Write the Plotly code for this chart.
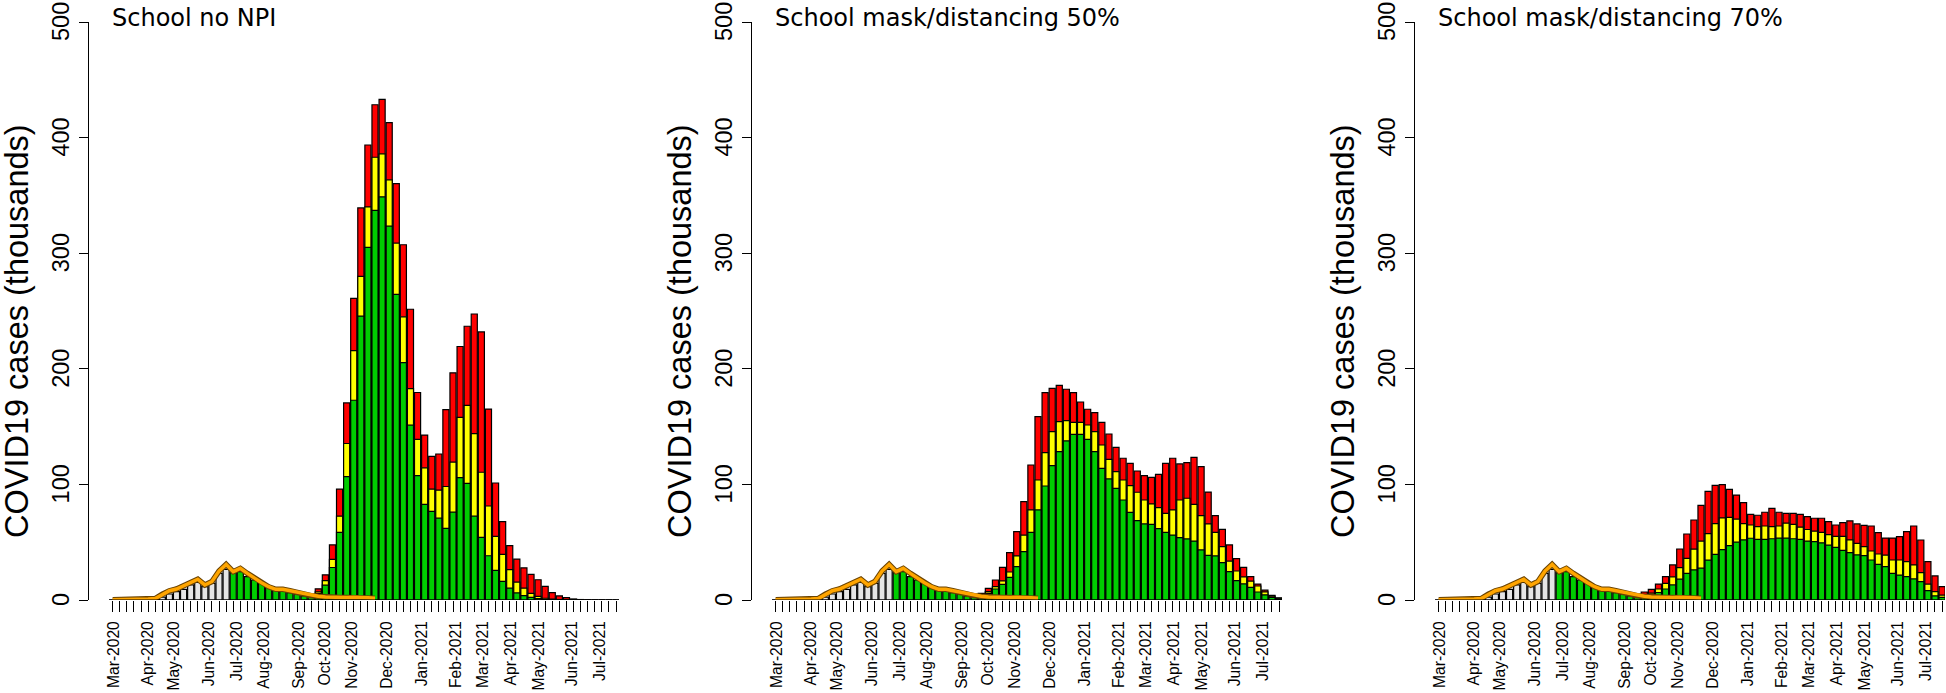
import plotly.graph_objects as go

# weekly bars, first week of March 2020 onwards
weeks = list(range(72))
n_observed_grey = 17   # weeks drawn in grey before the model period
n_shared = 29          # weeks identical in all three scenarios

# weekly cases (thousands) shared by every scenario
shared_cases = [0.2, 0.3, 0.3, 0.4, 0.5, 0.7, 1.2, 2.5, 5.2, 7.2, 9.2, 13.0, 15.3, 11.5,
                14.4, 23.1, 26.5, 23.6, 24.5, 20.2, 17.3, 14.4, 11.5, 8.7, 7.5, 6.3, 4.9,
                3.5, 2.6]

# reported cases (orange line)
reported = [0.3, 0.3, 0.4, 0.5, 0.7, 0.9, 1.2, 5.0, 8.0, 9.5, 12.4, 15.8, 18.0, 13.0,
            16.0, 25.0, 30.8, 24.5, 27.4, 23.0, 18.7, 15.0, 11.5, 9.2, 9.2, 8.0, 6.3,
            4.9, 3.7, 3.2, 2.6, 2.3, 2.2, 2.2, 2.3, 2.3, 2.0, 1.5]

# scenario weeks 29..71: total (top of red), green+yellow (top of yellow), green
no_npi_total = [9.7, 21.8, 47.7, 95.9, 170.5, 261.0, 339.2, 393.6, 428.4, 433.0, 413.0,
                360.2, 307.3, 251.5, 179.5, 142.7, 124.3, 126.3, 164.6, 196.5, 219.3,
                236.8, 247.4, 231.9, 165.2, 101.2, 67.8, 47.1, 35.4, 27.8, 22.2, 17.5,
                11.7, 6.4, 3.5, 2.0, 0.9, 0.4, 0.2, 0.1, 0.1, 0.05, 0.03]
no_npi_gy = [7.0, 16.8, 35.1, 72.5, 135.4, 215.8, 280.0, 340.0, 383.0, 386.0, 363.5,
             308.8, 245.0, 182.8, 138.9, 114.3, 95.9, 95.0, 98.2, 119.3, 157.9, 168.4,
             143.9, 110.5, 81.3, 55.0, 39.5, 26.3, 15.5, 10.2, 5.8, 3.2, 1.5, 0.8, 0.4,
             0.2, 0.1, 0.05, 0, 0, 0, 0, 0]
no_npi_green = [5.5, 12.8, 28.1, 58.5, 106.7, 172.8, 245.6, 305.0, 337.0, 348.8, 323.4,
                264.3, 205.3, 151.2, 107.6, 82.8, 76.6, 70.8, 62.0, 76.0, 105.9, 100.9,
                72.5, 54.1, 38.3, 25.7, 16.1, 10.2, 6.1, 3.8, 2.3, 1.2, 0.5, 0.3, 0.1,
                0.1, 0, 0, 0, 0, 0, 0, 0]

mask50_total = [5.8, 10.1, 17.3, 28.3, 41.0, 59.1, 85.1, 116.8, 158.6, 179.4, 183.1,
                185.7, 182.3, 179.4, 171.3, 165.0, 162.1, 153.7, 143.6, 132.1, 122.6,
                118.2, 111.6, 107.6, 106.1, 108.7, 118.2, 122.6, 117.7, 118.8, 123.4,
                115.4, 93.4, 73.0, 61.1, 47.6, 35.8, 28.3, 20.2, 13.8, 8.5, 4.0, 1.8]
mask50_gy = [4.3, 7.2, 11.5, 16.5, 24.2, 38.1, 56.2, 77.9, 103.8, 127.5, 145.6, 154.3,
             155.2, 153.7, 153.7, 151.4, 145.6, 134.1, 121.7, 111.0, 103.8, 98.9, 93.2,
             86.5, 83.1, 79.9, 75.0, 77.9, 86.5, 88.0, 82.8, 73.0, 65.8, 58.5, 46.1,
             33.7, 25.1, 20.0, 16.4, 12.1, 7.0, 3.3, 1.5]
mask50_green = [3.5, 5.8, 9.5, 13.5, 19.6, 28.8, 41.8, 58.5, 77.9, 98.6, 116.2, 128.3,
                137.6, 143.3, 143.3, 139.0, 128.3, 113.9, 104.7, 96.6, 86.5, 75.8, 68.6,
                65.8, 65.5, 61.7, 58.5, 56.2, 53.9, 52.8, 51.0, 43.3, 38.6, 38.1, 32.3,
                24.5, 16.7, 14.0, 11.0, 6.9, 4.5, 2.2, 1.0]

mask70_total = [6.9, 9.2, 13.8, 20.2, 30.3, 44.1, 57.1, 69.2, 81.9, 94.0, 99.2, 99.8,
                95.7, 90.8, 84.2, 74.1, 73.3, 75.9, 79.3, 75.9, 75.0, 75.0, 74.1, 72.1,
                70.7, 70.7, 67.8, 64.9, 66.9, 68.4, 65.8, 64.6, 64.0, 58.3, 53.6, 53.6,
                54.8, 59.1, 64.0, 51.9, 33.2, 20.8, 11.5]
mask70_gy = [4.3, 6.0, 9.5, 14.4, 20.0, 28.0, 36.0, 44.0, 51.0, 57.5, 66.0, 71.0, 71.5,
             70.0, 66.0, 64.9, 63.4, 64.0, 63.5, 64.0, 66.5, 65.5, 63.0, 61.0, 59.5,
             58.5, 56.5, 55.0, 55.0, 52.0, 49.0, 46.1, 42.4, 39.8, 38.9, 34.6, 34.6,
             33.2, 30.3, 23.7, 13.8, 7.2, 4.3]
mask70_green = [2.9, 3.8, 6.5, 9.5, 13.0, 18.0, 23.0, 26.0, 27.5, 34.5, 39.5, 43.5, 47.0,
                50.0, 52.0, 53.4, 52.5, 52.5, 53.0, 53.5, 53.5, 53.0, 52.5, 51.0, 50.5,
                49.5, 47.5, 45.5, 43.0, 41.0, 39.0, 38.4, 34.6, 30.9, 28.8, 23.1, 21.6,
                20.2, 18.2, 15.9, 8.1, 3.5, 2.3]

titles = ['School no NPI', 'School mask/distancing 50%', 'School mask/distancing 70%']
scenarios = [(no_npi_total, no_npi_gy, no_npi_green),
             (mask50_total, mask50_gy, mask50_green),
             (mask70_total, mask70_gy, mask70_green)]

month_labels = ['Mar-2020', 'Apr-2020', 'May-2020', 'Jun-2020', 'Jul-2020', 'Aug-2020',
                'Sep-2020', 'Oct-2020', 'Nov-2020', 'Dec-2020', 'Jan-2021', 'Feb-2021',
                'Mar-2021', 'Apr-2021', 'May-2021', 'Jun-2021', 'Jul-2021']
month_pos = [0.2, 4.95, 8.7, 13.6, 17.5, 21.4, 26.3, 29.95, 33.8, 38.7, 43.6, 48.4,
             52.2, 56.2, 60.05, 64.8, 68.7]
y_ticks = [0, 100, 200, 300, 400, 500]

W, H = 1946, 693
GREEN, YELLOW, RED, GREY, ORANGE = '#00CD00', '#FFFF00', '#FF0000', '#E5E5E5', '#FFA500'
TICKFONT = 'Liberation Sans, Arial, sans-serif'
STEP = 7.09      # pixels per week
PLOT_W = 530     # pixel width of each panel's x domain


def px(x):
    return x / W


def py(y):
    return 1 - y / H


fig = go.Figure()
outline = dict(color='black', width=1.2)
scenario_weeks = weeks[n_shared:]
base_colors = [GREY if w < n_observed_grey else GREEN for w in weeks]

for k, (title, (total, gy, green)) in enumerate(zip(titles, scenarios)):
    xa = 'x' if k == 0 else f'x{k + 1}'
    ya = 'y' if k == 0 else f'y{k + 1}'
    fig.add_bar(x=scenario_weeks, y=total, width=0.86, marker=dict(color=RED, line=outline),
                xaxis=xa, yaxis=ya)
    fig.add_bar(x=scenario_weeks, y=gy, width=0.86, marker=dict(color=YELLOW, line=outline),
                xaxis=xa, yaxis=ya)
    fig.add_bar(x=weeks, y=shared_cases + green, width=0.86,
                marker=dict(color=base_colors, line=outline), xaxis=xa, yaxis=ya)
    fig.add_scatter(x=weeks[:len(reported)], y=reported, mode='lines',
                    line=dict(color='#6b4300', width=5.5), xaxis=xa, yaxis=ya)
    fig.add_scatter(x=weeks[:len(reported)], y=reported, mode='lines',
                    line=dict(color=ORANGE, width=3.5), xaxis=xa, yaxis=ya)

    dx = 663 * k
    sfx = '' if k == 0 else str(k + 1)
    fig.update_layout({
        f'xaxis{sfx}': dict(
            domain=[px(89 + dx), px(89 + dx + PLOT_W)],
            range=[-3.34, -3.34 + PLOT_W / STEP],
            anchor=ya, showgrid=False, zeroline=False, showline=False,
            tickmode='array', tickvals=month_pos, ticktext=month_labels, tickangle=-90,
            ticks='outside', ticklen=14, tickcolor='rgba(0,0,0,0)',
            tickfont=dict(family=TICKFONT, size=15.6, color='black'),
            minor=dict(tickmode='array', tickvals=weeks, ticks='outside', ticklen=11,
                       tickwidth=1.2, tickcolor='black')),
        f'yaxis{sfx}': dict(
            domain=[py(600), py(22)], range=[0, 500.001], anchor=xa,
            showgrid=False, zeroline=False, showline=True, linecolor='black', linewidth=1.2,
            tickmode='array', tickvals=y_ticks, showticklabels=False,
            ticks='outside', ticklen=9, tickwidth=1.2, tickcolor='black'),
    })
    # y tick labels, rotated and centred on their ticks like R's default
    for v in y_ticks:
        fig.add_annotation(text=str(v), x=px(61 + dx), y=v, xref='paper', yref=ya,
                           textangle=-90, showarrow=False, xanchor='center',
                           yanchor='middle',
                           font=dict(family=TICKFONT, size=23.5, color='black'))
    fig.add_shape(type='line', xref=xa, yref=ya, x0=weeks[0], x1=weeks[-1], y0=0, y1=0,
                  line=dict(color='black', width=1.2))
    fig.add_annotation(text='COVID19 cases (thousands)', x=px(17 + dx), y=py(331),
                       xref='paper', yref='paper', textangle=-90, showarrow=False,
                       xanchor='center', yanchor='middle',
                       font=dict(family=TICKFONT, size=32.5, color='black'))
    fig.add_annotation(text=title, x=px(110 + dx), y=py(18), xref='paper', yref='paper',
                       showarrow=False, xanchor='left', yanchor='middle',
                       font=dict(family='DejaVu Sans', size=24, color='black'))

fig.update_layout(width=W, height=H, margin=dict(l=0, r=0, t=0, b=0),
                  barmode='overlay', showlegend=False,
                  plot_bgcolor='white', paper_bgcolor='white')

fig.write_html('out.html', config={'displayModeBar': False},
               post_script="document.body.style.margin='0';")
